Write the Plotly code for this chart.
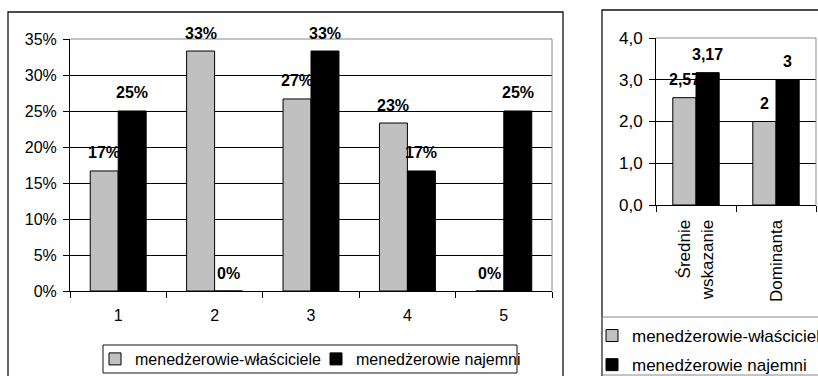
import plotly.graph_objects as go

# ---- data -------------------------------------------------------------
categories = ["1", "2", "3", "4", "5"]
owners_share = [0.1667, 0.3333, 0.2667, 0.2333, 0.0]
hired_share = [0.25, 0.0, 0.3333, 0.1667, 0.25]
pct_ticks = [0.0, 0.05, 0.10, 0.15, 0.20, 0.25, 0.30, 0.35]

stat_labels = ["Średnie<br>wskazanie", "Dominanta"]
owners_stat = [2.57, 2.0]
hired_stat = [3.17, 3.0]
stat_ticks = [0.0, 1.0, 2.0, 3.0, 4.0]

series_names = ["menedżerowie-właściciele", "menedżerowie najemni"]

# ---- styling ----------------------------------------------------------
W, H = 818, 376
FONT = "Liberation Sans, Arial, sans-serif"
GRAY = "#C0C0C0"
BLACK = "#000000"
EDGE = "#888888"
BARGAP = 0.42


def px_x(p):
    return p / W


def px_y(p):
    return 1 - p / H


fig = go.Figure()

# left chart: distribution of answers
for name, vals, col in [(series_names[0], owners_share, GRAY),
                        (series_names[1], hired_share, BLACK)]:
    fig.add_trace(go.Bar(
        x=categories, y=vals, name=name, xaxis="x", yaxis="y",
        marker=dict(color=col, line=dict(color=BLACK, width=1)),
        legend="legend", showlegend=True,
    ))

# right chart: mean and mode
for name, vals, col, grp in [(series_names[0], owners_stat, GRAY, "g1"),
                             (series_names[1], hired_stat, BLACK, "g2")]:
    fig.add_trace(go.Bar(
        x=stat_labels, y=vals, name=name, xaxis="x2", yaxis="y2",
        marker=dict(color=col, line=dict(color=BLACK, width=1)),
        legend="legend2", legendgroup=grp, showlegend=True,
    ))

# value labels above the bars
annotations = []
half = (1 - BARGAP) / 4
for vals, side in [(owners_share, -1), (hired_share, 1)]:
    for i, v in enumerate(vals):
        annotations.append(dict(
            x=i + side * half, y=v, xref="x", yref="y",
            text=f"<b>{v:.0%}</b>", showarrow=False,
            yanchor="middle", yshift=18,
        ))
for vals, side in [(owners_stat, -1), (hired_stat, 1)]:
    for i, v in enumerate(vals):
        annotations.append(dict(
            x=i + side * half, y=v, xref="x2", yref="y2",
            text="<b>" + f"{v:g}".replace(".", ",") + "</b>", showarrow=False,
            yanchor="middle", yshift=18,
        ))

shapes = [
    # chart frames
    dict(type="rect", xref="paper", yref="paper",
         x0=px_x(8), x1=px_x(563), y0=px_y(12), y1=px_y(390),
         line=dict(color="#111111", width=1.3), layer="below"),
    dict(type="rect", xref="paper", yref="paper",
         x0=px_x(602), x1=px_x(830), y0=px_y(10), y1=px_y(390),
         line=dict(color="#111111", width=1.3), layer="below"),
    # legend boxes
    dict(type="rect", xref="paper", yref="paper",
         x0=px_x(103), x1=px_x(517), y0=px_y(345), y1=px_y(373),
         line=dict(color="#111111", width=1), layer="below"),
    dict(type="rect", xref="paper", yref="paper",
         x0=px_x(602), x1=px_x(830), y0=px_y(317), y1=px_y(375),
         line=dict(color=EDGE, width=1), layer="below"),
    # plot-area edges (top and right) in gray
    dict(type="line", xref="x domain", yref="y domain", x0=0, x1=1, y0=1, y1=1,
         line=dict(color=EDGE, width=1)),
    dict(type="line", xref="x domain", yref="y domain", x0=1, x1=1, y0=0, y1=1,
         line=dict(color=EDGE, width=1)),
    dict(type="line", xref="x2 domain", yref="y2 domain", x0=0, x1=1, y0=1, y1=1,
         line=dict(color=EDGE, width=1)),
    dict(type="line", xref="x2 domain", yref="y2 domain", x0=1, x1=1, y0=0, y1=1,
         line=dict(color=EDGE, width=1)),
]


def axis_style(size):
    return dict(showline=True, linecolor=BLACK, linewidth=1,
                ticks="outside", tickcolor=BLACK, ticklen=6, tickwidth=1,
                tickfont=dict(family=FONT, size=size, color=BLACK))


fig.update_layout(
    width=W, height=H,
    margin=dict(l=0, r=0, t=0, b=0, autoexpand=False),
    paper_bgcolor="white", plot_bgcolor="white",
    font=dict(family=FONT, size=16, color=BLACK),
    separators=", ",
    barmode="group", bargap=BARGAP, bargroupgap=0,
    xaxis=dict(domain=[px_x(70), px_x(552)], anchor="y", type="category",
               tickson="boundaries", showgrid=False, ticklabelstandoff=10,
               **axis_style(16)),
    yaxis=dict(domain=[px_y(291), px_y(39)], anchor="x", range=[0, 0.35],
               tickvals=pct_ticks, tickformat=".0%", showgrid=True,
               gridcolor=BLACK, gridwidth=1, zeroline=False,
               ticklabelstandoff=3, **axis_style(16)),
    xaxis2=dict(domain=[px_x(656), px_x(816)], anchor="y2", type="category",
                tickson="boundaries", showgrid=False, tickangle=-90,
                ticklabelstandoff=7, **axis_style(17)),
    yaxis2=dict(domain=[px_y(205), px_y(38)], anchor="x2", range=[0, 4],
                tickvals=stat_ticks, tickformat=".1f", showgrid=True,
                gridcolor=BLACK, gridwidth=1, zeroline=False,
                ticklabelstandoff=3, **axis_style(17)),
    legend=dict(orientation="h", x=px_x(95), xanchor="left",
                y=px_y(359), yanchor="middle",
                bgcolor="rgba(0,0,0,0)", borderwidth=0,
                font=dict(family=FONT, size=16, color=BLACK),
                entrywidth=176, entrywidthmode="pixels"),
    legend2=dict(orientation="v", x=px_x(592), xanchor="left",
                 y=px_y(318), yanchor="top",
                 bgcolor="rgba(0,0,0,0)", borderwidth=0,
                 tracegroupgap=4,
                 font=dict(family=FONT, size=17, color=BLACK)),
    annotations=annotations,
    shapes=shapes,
)
fig.update_annotations(font=dict(family=FONT, size=16, color=BLACK))

fig.write_html("out.html")
